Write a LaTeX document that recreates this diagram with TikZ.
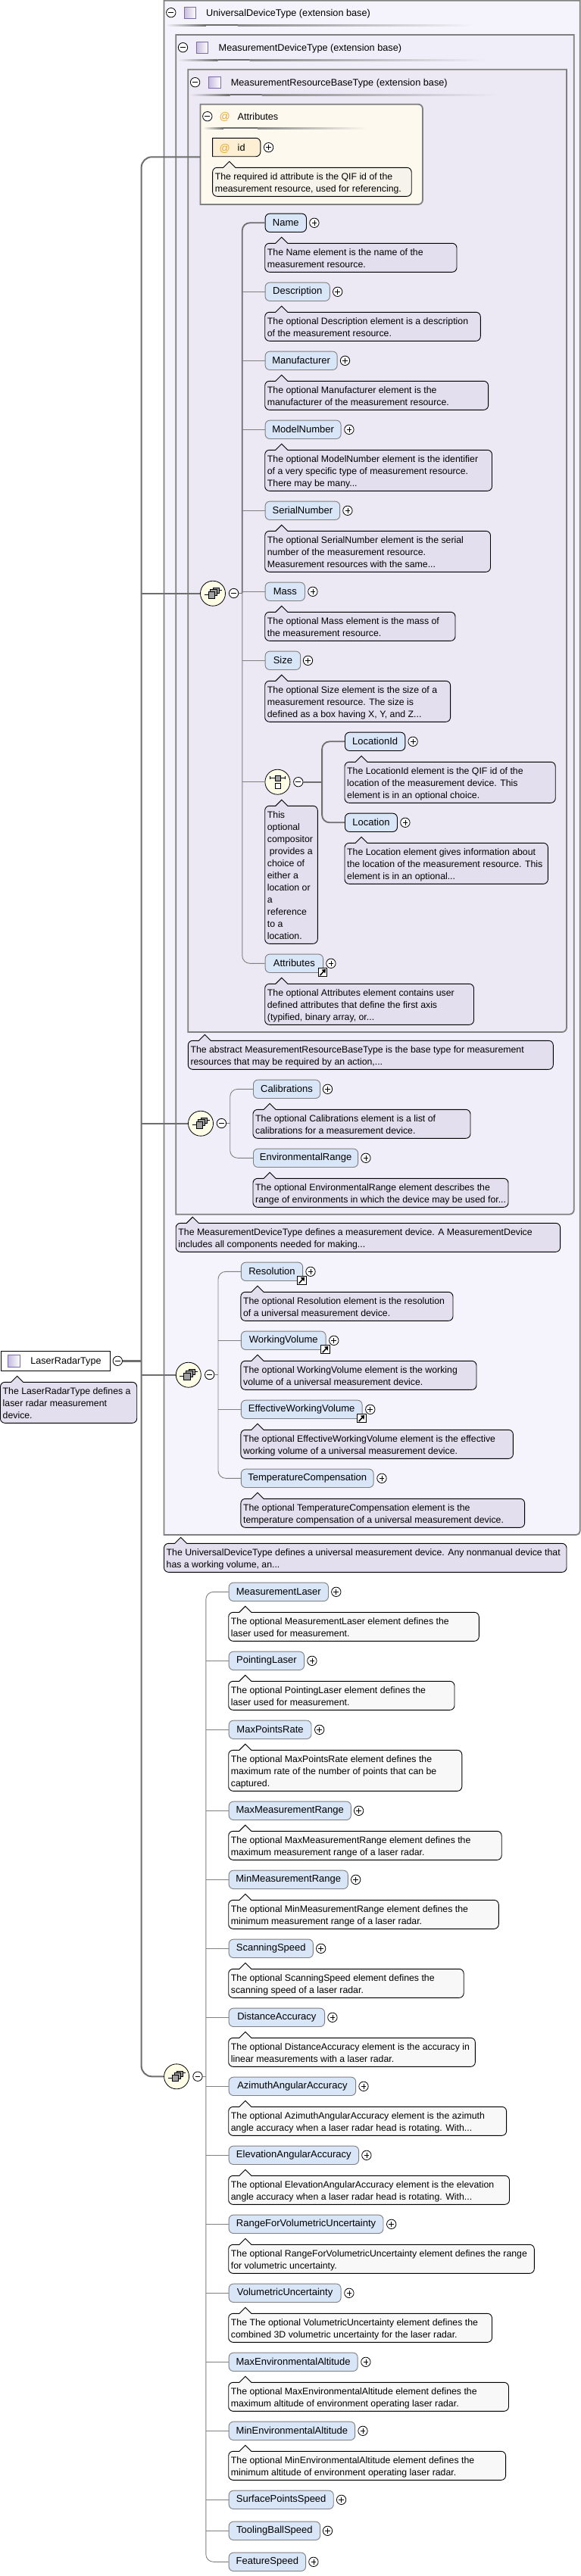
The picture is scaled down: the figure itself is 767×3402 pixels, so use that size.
\documentclass[tikz,border=0pt]{standalone}
\usepackage{fontspec}
\setmainfont{Liberation Sans}
\usetikzlibrary{calc}
\definecolor{bgU}{HTML}{F5F3FB}
\definecolor{bgM}{HTML}{F0EEF8}
\definecolor{bgR}{HTML}{ECE9F5}
\definecolor{bgA}{HTML}{FEF9EF}
\definecolor{bgId}{HTML}{FDEFD3}
\definecolor{bgIdC}{HTML}{F6F3EA}
\definecolor{cbP}{HTML}{E4DFEE}
\definecolor{cbW}{HTML}{F8F8F8}
\definecolor{elF}{HTML}{D9E6F8}
\definecolor{compF}{HTML}{FFFEE6}
\definecolor{frm}{HTML}{808080}
\definecolor{busC}{HTML}{6E6E6E}
\definecolor{icoB}{HTML}{7B6BA8}
\definecolor{icoF}{HTML}{C6BCE0}
\definecolor{atC}{HTML}{E8A93A}
\tikzset{
  elem/.style={draw=frm,fill=elF,line width=0.9pt,rounded corners=6pt,minimum height=24.3pt,inner xsep=0pt,inner ysep=0pt,font=\fontsize{13}{16}\selectfont},
  reqd/.style={draw=black},
  pm/.style={circle,draw=black,fill=white,line width=0.8pt,minimum size=12.4pt,inner sep=0pt},
  cbtext/.style={align=left,anchor=west,inner sep=0pt,font=\fontsize{12.3}{16}\selectfont},
  hdtext/.style={anchor=base west,inner sep=0pt,font=\fontsize{12.7}{16}\selectfont},
  comp/.style={circle,draw=black,fill=compF,line width=0.8pt,minimum size=33pt,inner sep=0pt},
  frame/.style={draw=frm,line width=1.8pt},
  busthick/.style={draw=busC,line width=2pt},
  busthin/.style={draw=frm,line width=0.9pt},
  busdark/.style={draw=busC,line width=1.8pt},
  icon/.style={draw=black,fill=gray!75,line width=0.5pt}
}
% pm sign
\newcommand{\plusn}[3]{\node[pm] (#1) at (#2,#3) {};
  \draw[line width=0.8pt] ([xshift=-3.4pt]#1.center) -- ([xshift=3.4pt]#1.center) ([yshift=-3.4pt]#1.center) -- ([yshift=3.4pt]#1.center);}
\newcommand{\minusn}[3]{\node[pm] (#1) at (#2,#3) {};
  \draw[line width=0.8pt] ([xshift=-3.4pt]#1.center) -- ([xshift=3.4pt]#1.center);}
% element: id, text, left, right, y, plus x, extra style
\newcommand{\elemn}[7]{\node[elem,#7,minimum width={(#4-#3)*1pt},anchor=west] (#1) at (#3,#5) {#2};
  \plusn{#1p}{#6}{#5}}
% callout: id, left, right, top, lines, fill, text
\newcommand{\cbx}[7]{%
  \pgfmathsetmacro{\cbb}{#4+16*#5+6}\pgfmathsetmacro{\cba}{#2+22.1}\pgfmathsetmacro{\cbm}{#4+3+8*#5}%
  \draw[draw=black,fill=#6,line width=0.9pt]
    (#2,\cbm) [rounded corners=6pt] -- (#2,#4) [sharp corners] -- (\cba-8,#4) -- (\cba,#4-8) -- (\cba+8,#4)
    [rounded corners=6pt] -- (#3,#4) -- (#3,\cbb) -- (#2,\cbb) -- cycle;
  \node[cbtext] (#1) at (#2+3,\cbm) {\rule{0pt}{12.7pt}#7\rule[-3.3pt]{0pt}{3.3pt}};}
% reference arrow icon: left, top
\newcommand{\refic}[3]{\node[draw=black,fill=white,line width=0.8pt,minimum width=11.5pt,minimum height=11pt,inner sep=0pt,anchor=north west] (#1) at (#2,#3) {};
  \draw[line width=1.5pt] ([shift={(-3.5pt,-4pt)}]#1.center) -- ([shift={(3pt,3.2pt)}]#1.center);
  \fill ([shift={(3.9pt,4.2pt)}]#1.center) -- ([shift={(-1.4pt,3.6pt)}]#1.center) -- ([shift={(3.4pt,-1.4pt)}]#1.center) -- cycle;}
% header: minus, icon, text
\newcommand{\hdr}[7]{\minusn{#1m}{#2}{#3}
  \shade[left color=icoF,right color=white,draw=icoB,line width=0.8pt] (#4,#3-7.7) rectangle (#4+15.4,#3+7.7);
  \node[hdtext] (#1t) at (#5,#3+4.5) {#6};
  \shade[left color=#7,right color=busC] (#2-7,#3+15.3) rectangle (#2+46,#3+17.3);
  \fill[busC] (#2+46,#3+15.3) rectangle (#2+88,#3+17.3);
  \shade[left color=busC!80,right color=#7] (#2+88,#3+15.3) rectangle (#2+400,#3+17.3);}
% sequence compositor
\newcommand{\seqcomp}[3]{\node[comp] (#1) at (#2,#3) {};
  \draw[line width=0.8pt] ([shift={(-11.5pt,-1.6pt)}]#1.center) -- ([shift={(-6pt,-1.6pt)}]#1.center);
  \draw[line width=0.8pt] ([shift={(8pt,4.7pt)}]#1.center) -- ([shift={(12pt,4.7pt)}]#1.center);
  \filldraw[icon] ([shift={(0pt,7.3pt)}]#1.center) rectangle ([shift={(8pt,0pt)}]#1.center);
  \filldraw[icon] ([shift={(-3.3pt,5pt)}]#1.center) rectangle ([shift={(5pt,-3pt)}]#1.center);
  \filldraw[icon] ([shift={(-6.2pt,2.4pt)}]#1.center) rectangle ([shift={(2.1pt,-6.3pt)}]#1.center);}
\begin{document}
\begin{tikzpicture}[x=1pt,y=-1pt]
\useasboundingbox (0,0) rectangle (767,3402);
% containers
\draw[frame,fill=bgU] (216.5,0.6) -- (216.5,2027) [rounded corners=5pt] -- (765.7,2027) [sharp corners] -- (765.7,0.6) -- cycle;
\draw[frame,fill=bgM] (232.2,46) -- (232.2,1603.7) [rounded corners=6pt] -- (757.7,1603.7) [sharp corners] -- (757.7,46) -- cycle;
\draw[frame,fill=bgR] (248.3,91.7) -- (248.3,1363) [rounded corners=6pt] -- (748,1363) [sharp corners] -- (748,91.7) -- cycle;
\draw[frame,fill=bgA] (264.5,137.7) -- (264.5,270) [rounded corners=6pt] -- (558,270) -- (558,137.7) [sharp corners] -- cycle;
% headers
\hdr{hu}{225.8}{16.7}{243.4}{272}{UniversalDeviceType (extension base)}{bgU}
\hdr{hm}{241.5}{62.7}{259.2}{288.5}{MeasurementDeviceType (extension base)}{bgM}
\hdr{hr}{257.6}{108.7}{275.7}{304.6}{MeasurementResourceBaseType (extension base)}{bgR}
\minusn{ham}{273.8}{153.7}
\node[font=\fontsize{14}{16}\selectfont,text=atC,inner sep=0pt] (hai) at (296.8,154.5) {@};
\node[hdtext] (hat) at (313.5,158.2) {Attributes};
\shade[left color=bgA,right color=busC] (268,168) rectangle (295,170);
\fill[busC] (295,168) rectangle (340,170);
\shade[left color=busC!80,right color=bgA] (340,168) rectangle (485,170);
% anchors
\coordinate (attrL) at (264.5,207.3);
\coordinate (mainbus) at (186.6,1797.3);
\coordinate (bus1) at (319.8,783);
\coordinate (bus1b) at (425.1,1032.7);
\coordinate (bus2) at (303.7,1483.5);
\coordinate (bus3) at (288,1815.5);
\coordinate (bus4) at (271.8,2742.2);
% root
\node[draw=black,fill=white,line width=0.8pt,minimum width=144pt,minimum height=26pt,anchor=west,inner sep=0pt] (root) at (0.5,1797.3) {};
\shade[left color=icoF,right color=white,draw=icoB,line width=0.8pt] (10.8,1789.6) rectangle (26.4,1805);
\node[hdtext,font=\fontsize{12.6}{16}\selectfont] (roott) at (40.2,1801.8) {LaserRadarType};
\minusn{rootm}{155.3}{1797.3}
\draw[draw=busC,line width=3pt] (rootm.east) -- (mainbus);
\cbx{rootc}{0.5}{180.7}{1825.3}{3}{cbP}{The LaserRadarType defines a\\laser radar measurement\\device.}
% compositors (nodes first so the bus can be drawn to them)
\seqcomp{c1}{281}{783.7}
\seqcomp{c2}{265}{1483.7}
\seqcomp{c3}{248.8}{1815.7}
\seqcomp{c4}{233.1}{2742.3}
\minusn{c1m}{308.6}{783.5}
\minusn{c2m}{292.4}{1483.5}
\minusn{c3m}{276.7}{1815.5}
\minusn{c4m}{261}{2742.2}
% main bus
\draw[busthick,rounded corners=14pt] (attrL) -- (mainbus |- attrL) -- (mainbus |- c4.west) -- (c4.west);
\draw[busthick] (mainbus |- c1.west) -- (c1.west);
\draw[busthick] (mainbus |- c2.west) -- (c2.west);
\draw[busthick] (mainbus |- c3.west) -- (c3.west);
% id attribute
\draw[draw=black,fill=bgId,line width=0.9pt] (280.6,182.3) [rounded corners=6pt] -- (343.8,182.3) -- (343.8,206.7) [sharp corners] -- (280.6,206.7) -- cycle;
\node[font=\fontsize{14}{16}\selectfont,text=atC,inner sep=0pt] (idi) at (296.8,196) {@};
\node[hdtext] (idt) at (313.5,199) {id};
\plusn{idp}{354.6}{194.7}
\cbx{idc}{280.6}{543.2}{221.3}{2}{bgIdC}{The required id attribute is the QIF id of the\\measurement resource, used for referencing.}
% group 1
\elemn{e1}{Name}{349.7}{404}{294.3}{414.9}{reqd}
\elemn{e2}{Description}{349.7}{434.9}{385.3}{445.7}{}
\elemn{e3}{Manufacturer}{349.7}{444.7}{476.3}{455.5}{}
\elemn{e4}{ModelNumber}{349.7}{449.6}{567.3}{460.9}{}
\elemn{e5}{SerialNumber}{349.7}{448.2}{674.3}{458.9}{}
\elemn{e6}{Mass}{349.7}{402}{781.3}{412.9}{}
\elemn{e7}{Size}{349.7}{396.2}{872.3}{406.5}{}
\elemn{e8}{Attributes}{349.7}{426.1}{1272.3}{436.9}{}
\draw[busdark] (c1m.east) -- (bus1 |- c1m.east);
\draw[busdark,rounded corners=10pt] (e1.west) -- (bus1 |- e1.west) -- (bus1);
\draw[busthin,rounded corners=10pt] (bus1) -- (bus1 |- e8.west) -- (e8.west);
\foreach \n in {e2,e3,e4,e5,e6,e7}{\draw[busthin] (bus1 |- \n.west) -- (\n.west);}
\cbx{e1c}{349.7}{603}{321.3}{2}{cbP}{The Name element is the name of the\\measurement resource.}
\cbx{e2c}{349.7}{634.3}{412.3}{2}{cbP}{The optional Description element is a description\\of the measurement resource.}
\cbx{e3c}{349.7}{644.6}{503.3}{2}{cbP}{The optional Manufacturer element is the\\manufacturer of the measurement resource.}
\cbx{e4c}{349.7}{649.5}{594.3}{3}{cbP}{The optional ModelNumber element is the identifier\\of a very specific type of measurement resource.\\There may be many...}
\cbx{e5c}{349.7}{647.5}{701.3}{3}{cbP}{The optional SerialNumber element is the serial\\number of the measurement resource.\\Measurement resources with the same...}
\cbx{e6c}{349.7}{601}{808.3}{2}{cbP}{The optional Mass element is the mass of\\the measurement resource.}
\cbx{e7c}{349.7}{594.6}{899.3}{3}{cbP}{The optional Size element is the size of a\\measurement resource. The size is\\defined as a box having X, Y, and Z...}
% choice
\node[comp] (ch) at (366.4,1032.7) {};
\draw[line width=0.8pt] ([shift={(-9.8pt,5.4pt)}]ch.center) -- ([shift={(9.8pt,5.4pt)}]ch.center);
\draw[line width=0.8pt] ([shift={(-9.8pt,7.4pt)}]ch.center) -- ([shift={(-9.8pt,3.4pt)}]ch.center) ([shift={(9.8pt,7.4pt)}]ch.center) -- ([shift={(9.8pt,3.4pt)}]ch.center);
\filldraw[icon] ([shift={(-3.4pt,1pt)}]ch.center) rectangle ([shift={(3.4pt,8.4pt)}]ch.center);
\filldraw[icon,fill=white] ([shift={(-3.4pt,-9pt)}]ch.center) rectangle ([shift={(3.4pt,-1.7pt)}]ch.center);
\minusn{chm}{393.8}{1032.7}
\draw[busthin] (bus1 |- ch.west) -- (ch.west);
\elemn{e9}{LocationId}{455}{534.4}{979.3}{545.1}{reqd}
\elemn{e10}{Location}{455}{524}{1086.3}{534.9}{reqd}
\draw[draw=busC,line width=2.4pt] (chm.east) -- (bus1b);
\draw[busdark,rounded corners=10pt] (e9.west) -- (bus1b |- e9.west) -- (bus1b |- e10.west) -- (e10.west);
\cbx{chc}{349.7}{419.3}{1064.3}{11}{cbP}{This\\optional\\compositor\\\hspace{3pt}provides a\\choice of\\either a\\location or\\a\\reference\\to a\\location.}
\cbx{e9c}{455}{733.2}{1006.3}{3}{cbP}{The LocationId element is the QIF id of the\\location of the measurement device. This\\element is in an optional choice.}
\cbx{e10c}{455}{723.4}{1113.3}{3}{cbP}{The Location element gives information about\\the location of the measurement resource. This\\element is in an optional...}
\refic{e8r}{419.8}{1278.3}
\cbx{e8c}{349.7}{625.5}{1299.3}{3}{cbP}{The optional Attributes element contains user\\defined attributes that define the first axis\\(typified, binary array, or...}
\cbx{rc}{248.3}{730.3}{1374.3}{2}{cbP}{The abstract MeasurementResourceBaseType is the base type for measurement\\resources that may be required by an action,...}
% group 2
\elemn{f1}{Calibrations}{334}{422.2}{1438.3}{432.5}{}
\elemn{f2}{EnvironmentalRange}{334}{472.2}{1529.3}{482.9}{}
\draw[busthin] (c2m.east) -- (bus2);
\draw[busthin,rounded corners=10pt] (f1.west) -- (bus2 |- f1.west) -- (bus2 |- f2.west) -- (f2.west);
\cbx{f1c}{334}{621}{1465.3}{2}{cbP}{The optional Calibrations element is a list of\\calibrations for a measurement device.}
\cbx{f2c}{334}{671}{1556.3}{2}{cbP}{The optional EnvironmentalRange element describes the\\range of environments in which the device may be used for...}
\cbx{mc}{232.2}{739.6}{1615.3}{2}{cbP}{The MeasurementDeviceType defines a measurement device. A MeasurementDevice\\includes all components needed for making...}
% group 3
\elemn{g1}{Resolution}{317.9}{399.2}{1679.3}{410}{}
\elemn{g2}{WorkingVolume}{317.9}{429.6}{1770.3}{440.8}{}
\elemn{g3}{EffectiveWorkingVolume}{317.9}{477.6}{1861.3}{488.8}{}
\elemn{g4}{TemperatureCompensation}{317.9}{492.7}{1952.3}{504}{}
\draw[busthin] (c3m.east) -- (bus3);
\draw[busthin,rounded corners=10pt] (g1.west) -- (bus3 |- g1.west) -- (bus3 |- g4.west) -- (g4.west);
\draw[busthin] (bus3 |- g2.west) -- (g2.west);
\draw[busthin] (bus3 |- g3.west) -- (g3.west);
\refic{g1r}{392}{1685}
\refic{g2r}{423.2}{1776.3}
\refic{g3r}{471}{1867.3}
\cbx{g1c}{317.9}{598}{1706.3}{2}{cbP}{The optional Resolution element is the resolution\\of a universal measurement device.}
\cbx{g2c}{317.9}{629}{1797.3}{2}{cbP}{The optional WorkingVolume element is the working\\volume of a universal measurement device.}
\cbx{g3c}{317.9}{677.4}{1888.3}{2}{cbP}{The optional EffectiveWorkingVolume element is the effective\\working volume of a universal measurement device.}
\cbx{g4c}{317.9}{692.6}{1979.3}{2}{cbP}{The optional TemperatureCompensation element is the\\temperature compensation of a universal measurement device.}
\cbx{uc}{216.5}{748}{2038.3}{2}{cbP}{The UniversalDeviceType defines a universal measurement device. Any nonmanual device that\\has a working volume, an...}
% group 4
\elemn{h1}{MeasurementLaser}{301.7}{433}{2102.3}{443.8}{}
\elemn{h2}{PointingLaser}{301.7}{401.1}{2193.3}{411.9}{}
\elemn{h3}{MaxPointsRate}{301.7}{410.5}{2284.3}{421.7}{}
\elemn{h4}{MaxMeasurementRange}{301.7}{462.9}{2391.3}{473.6}{}
\elemn{h5}{MinMeasurementRange}{301.7}{458.9}{2482.3}{469.7}{}
\elemn{h6}{ScanningSpeed}{301.7}{412.9}{2573.3}{423.7}{}
\elemn{h7}{DistanceAccuracy}{301.7}{428.1}{2664.3}{438.9}{}
\elemn{h8}{AzimuthAngularAccuracy}{301.7}{469.2}{2755.3}{480}{}
\elemn{h9}{ElevationAngularAccuracy}{301.7}{473.1}{2846.3}{483.9}{}
\elemn{h10}{RangeForVolumetricUncertainty}{301.7}{505.5}{2937.3}{516.7}{}
\elemn{h11}{VolumetricUncertainty}{301.7}{449.6}{3028.3}{460.9}{}
\elemn{h12}{MaxEnvironmentalAltitude}{301.7}{471.7}{3119.3}{482.9}{}
\elemn{h13}{MinEnvironmentalAltitude}{301.7}{468.2}{3210.3}{479}{}
\elemn{h14}{SurfacePointsSpeed}{301.7}{439.8}{3301.3}{450.6}{}
\elemn{h15}{ToolingBallSpeed}{301.7}{422.2}{3342.3}{432.5}{}
\elemn{h16}{FeatureSpeed}{301.7}{403.1}{3383.3}{413.9}{}
\draw[busthin] (c4m.east) -- (bus4);
\draw[busthin,rounded corners=10pt] (h1.west) -- (bus4 |- h1.west) -- (bus4 |- h16.west) -- (h16.west);
\foreach \n in {h2,h3,h4,h5,h6,h7,h8,h9,h10,h11,h12,h13,h14,h15}{\draw[busthin] (bus4 |- \n.west) -- (\n.west);}
\cbx{h1c}{301.7}{632.3}{2129.3}{2}{cbW}{The optional MeasurementLaser element defines the\\laser used for measurement.}
\cbx{h2c}{301.7}{600}{2220.3}{2}{cbW}{The optional PointingLaser element defines the\\laser used for measurement.}
\cbx{h3c}{301.7}{609.8}{2311.3}{3}{cbW}{The optional MaxPointsRate element defines the\\maximum rate of the number of points that can be\\captured.}
\cbx{h4c}{301.7}{662.2}{2418.3}{2}{cbW}{The optional MaxMeasurementRange element defines the\\maximum measurement range of a laser radar.}
\cbx{h5c}{301.7}{658.3}{2509.3}{2}{cbW}{The optional MinMeasurementRange element defines the\\minimum measurement range of a laser radar.}
\cbx{h6c}{301.7}{612.2}{2600.3}{2}{cbW}{The optional ScanningSpeed element defines the\\scanning speed of a laser radar.}
\cbx{h7c}{301.7}{627.4}{2691.3}{2}{cbW}{The optional DistanceAccuracy element is the accuracy in\\linear measurements with a laser radar.}
\cbx{h8c}{301.7}{668.6}{2782.3}{2}{cbW}{The optional AzimuthAngularAccuracy element is the azimuth\\angle accuracy when a laser radar head is rotating. With...}
\cbx{h9c}{301.7}{672.5}{2873.3}{2}{cbW}{The optional ElevationAngularAccuracy element is the elevation\\angle accuracy when a laser radar head is rotating. With...}
\cbx{h10c}{301.7}{705.3}{2964.3}{2}{cbW}{The optional RangeForVolumetricUncertainty element defines the range\\for volumetric uncertainty.}
\cbx{h11c}{301.7}{649.5}{3055.3}{2}{cbW}{The The optional VolumetricUncertainty element defines the\\combined 3D volumetric uncertainty for the laser radar.}
\cbx{h12c}{301.7}{671.5}{3146.3}{2}{cbW}{The optional MaxEnvironmentalAltitude element defines the\\maximum altitude of environment operating laser radar.}
\cbx{h13c}{301.7}{667.6}{3237.3}{2}{cbW}{The optional MinEnvironmentalAltitude element defines the\\minimum altitude of environment operating laser radar.}
\end{tikzpicture}
\end{document}
